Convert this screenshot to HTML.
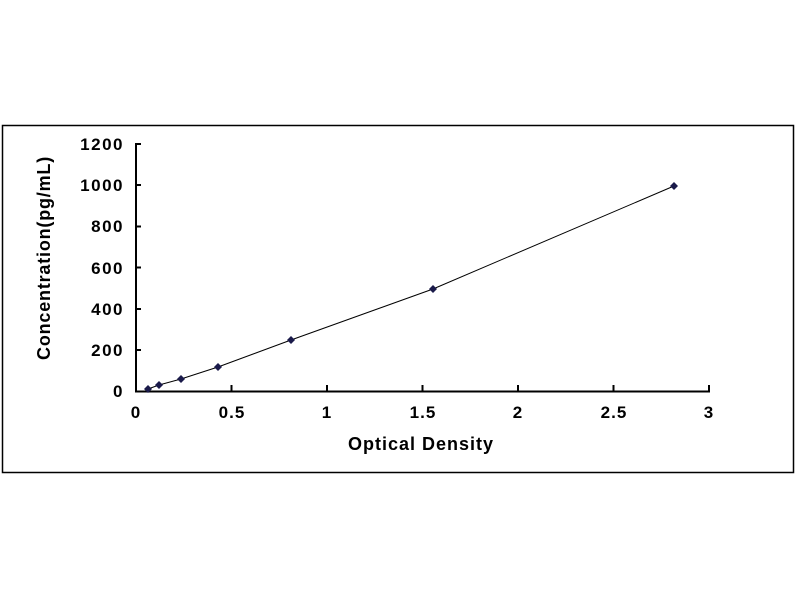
<!DOCTYPE html>
<html><head><meta charset="utf-8"><style>
html,body{margin:0;padding:0;background:#fff;}
svg{display:block;}
text{font-family:"Liberation Sans",Arial,sans-serif;font-weight:bold;fill:#000;}
</style></head><body>
<svg width="800" height="600" viewBox="0 0 800 600">
<rect x="2.5" y="125.5" width="791" height="347" fill="#fff" stroke="#000" stroke-width="1.5"/>
<g stroke="#000" stroke-width="2" fill="none">
<line x1="136" y1="143" x2="136" y2="392"/>
<line x1="135" y1="391.5" x2="710" y2="391.5"/>
<line x1="136" y1="144" x2="141" y2="144"/>
<line x1="136" y1="185" x2="141" y2="185"/>
<line x1="136" y1="226.5" x2="141" y2="226.5"/>
<line x1="136" y1="267.5" x2="141" y2="267.5"/>
<line x1="136" y1="309" x2="141" y2="309"/>
<line x1="136" y1="350" x2="141" y2="350"/>
<line x1="231.5" y1="391" x2="231.5" y2="385"/>
<line x1="327" y1="391" x2="327" y2="385"/>
<line x1="422.5" y1="391" x2="422.5" y2="385"/>
<line x1="518" y1="391" x2="518" y2="385"/>
<line x1="613.5" y1="391" x2="613.5" y2="385"/>
<line x1="709" y1="391" x2="709" y2="385"/>
</g>
<g font-size="17" text-anchor="end" letter-spacing="1.5">
<text x="124" y="150">1200</text>
<text x="124" y="191">1000</text>
<text x="124" y="232">800</text>
<text x="124" y="274">600</text>
<text x="124" y="315">400</text>
<text x="124" y="356">200</text>
<text x="124" y="397">0</text>
</g>
<g font-size="17" text-anchor="middle" letter-spacing="1">
<text x="136" y="418">0</text>
<text x="232" y="418">0.5</text>
<text x="327" y="418">1</text>
<text x="423" y="418">1.5</text>
<text x="518" y="418">2</text>
<text x="614" y="418">2.5</text>
<text x="709" y="418">3</text>
</g>
<text x="421" y="450" font-size="18" text-anchor="middle" letter-spacing="1">Optical Density</text>
<text transform="translate(50,258) rotate(-90)" font-size="18" text-anchor="middle" letter-spacing="0.8">Concentration(pg/mL)</text>
<polyline points="148,389 159,385 181,379 218,367 291,340 433,289 674,186" fill="none" stroke="#000" stroke-width="1"/>
<g fill="#1a1a4a">
<path d="M148,385 l4,4 l-4,4 l-4,-4z"/>
<path d="M159,381 l4,4 l-4,4 l-4,-4z"/>
<path d="M181,375 l4,4 l-4,4 l-4,-4z"/>
<path d="M218,363 l4,4 l-4,4 l-4,-4z"/>
<path d="M291,336 l4,4 l-4,4 l-4,-4z"/>
<path d="M433,285 l4,4 l-4,4 l-4,-4z"/>
<path d="M674,182 l4,4 l-4,4 l-4,-4z"/>
</g>
</svg>
</body></html>
